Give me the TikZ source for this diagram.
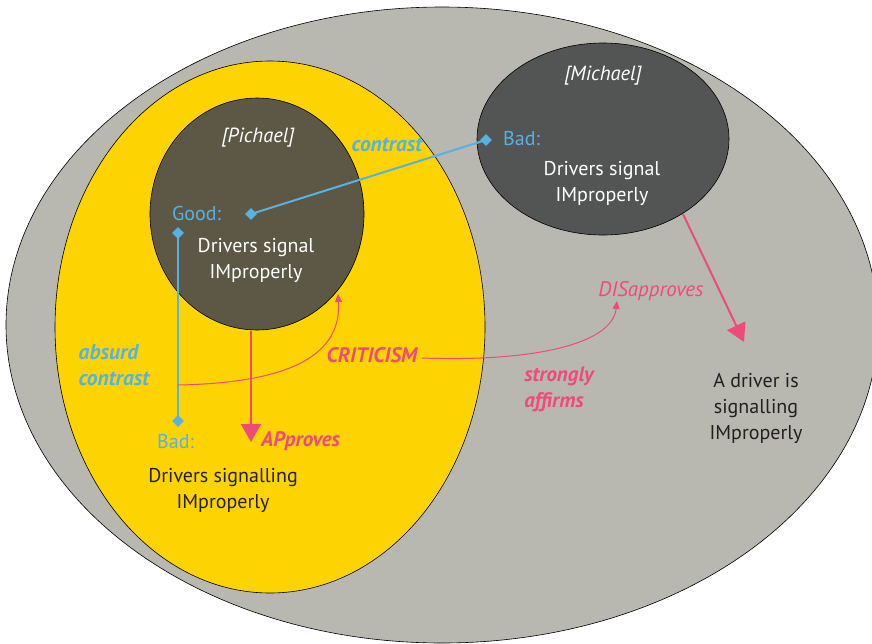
\documentclass[tikz,border=0pt]{standalone}
\usepackage{fontspec}
\setmainfont{PT Sans}
\usetikzlibrary{arrows.meta,shapes.geometric}
\definecolor{outergray}{HTML}{B9B8B0}
\definecolor{setyellow}{HTML}{FDD302}
\definecolor{pichaelc}{HTML}{5C5845}
\definecolor{michaelc}{HTML}{535454}
\definecolor{linkblue}{HTML}{55B2E3}
\definecolor{evalpink}{HTML}{EE4B7B}
\definecolor{inktext}{HTML}{231F20}
\tikzset{
  region/.style={draw=black, line width=0.6pt},
  lbl/.style={font=\fontsize{20}{26}\selectfont, align=center, inner sep=0pt},
  setname/.style={lbl, text=white, font=\fontsize{20.5}{26}\selectfont\itshape},
  pole/.style={lbl, text=linkblue},
  relblue/.style={lbl, text=linkblue, font=\fontsize{21.5}{26}\selectfont\bfseries\itshape, align=left},
  relpink/.style={lbl, text=evalpink, font=\fontsize{21}{26}\selectfont\bfseries\itshape},
  tip/.style={diamond, fill=linkblue, inner sep=0pt, minimum size=12pt},
  link/.style={linkblue, line width=2pt},
  bigarrow/.style={evalpink, line width=2pt, -{Triangle[width=20pt,length=18pt]}},
  thinarrow/.style={evalpink, line width=1pt, -{Triangle[width=7pt,length=8pt]}},
}
\begin{document}
\begin{tikzpicture}[x=1pt,y=-1pt]
\useasboundingbox (0,0) rectangle (872,643);
\clip (0,0) rectangle (872,643);
\fill[white] (0,0) rectangle (872,643);

% nested regions
\draw[region, fill=outergray] (442,325) ellipse [x radius=436, y radius=318];
\draw[region, fill=setyellow] (270,327) ellipse [x radius=215, y radius=266];
\draw[region, fill=pichaelc] (257,214) ellipse [x radius=107, y radius=116];
\draw[region, fill=michaelc] (603,139) ellipse [x radius=126, y radius=96];

% texts inside the regions
\node[setname] (pname) at (258,138) {[Pichael]};
\node[setname] (mname) at (603,76) {[Michael]};
\node[pole, anchor=west] (good) at (172,213) {Good:};
\node[lbl, text=white] (pdesc) at (256,260) {Drivers signal\\IMproperly};
\node[pole, anchor=west] (mbad) at (503,139) {Bad:};
\node[lbl, text=white] (mdesc) at (602,183) {Drivers signal\\IMproperly};
\node[pole, anchor=west] (ybad) at (157,442) {Bad:};
\node[lbl, text=inktext] (ydesc) at (223,490) {Drivers signalling\\IMproperly};
\node[lbl, text=inktext] (world) at (756,408) {A driver is\\signalling\\IMproperly};

% contrast links
\node[tip] (dgood) at (251,214) {};
\node[tip] (dmbad) at (486,140) {};
\node[tip] (dtop) at (178,233) {};
\node[tip] (dbot) at (178,421) {};
\draw[link] (dgood.center) -- (dmbad.center);
\draw[link] (dtop.center) -- (dbot.center);
\node[relblue] (contrastlbl) at (387,145) {contrast};
\node[relblue] (absurdlbl) at (114,365) {absurd\\contrast};
\coordinate (critstart) at (178,385);

% evaluations
\coordinate (apstart) at (251,331);
\coordinate (apend) at (251,442);
\draw[bigarrow] (apstart) -- (apend);
\node[relpink, anchor=west] (approves) at (261,441) {APproves};

\coordinate (disstart) at (683,214);
\coordinate (disend) at (744,342);
\draw[bigarrow] (disstart) -- (disend);

\node[relpink] (crit) at (372,355) {CRITICISM};
\node[lbl, text=evalpink, font=\fontsize{21}{26}\selectfont\itshape] (disapp) at (651,291) {DISapproves};
\node[relpink, align=left] (affirms) at (559,389) {strongly\\affirms};

\draw[thinarrow] (critstart) .. controls (280,383) and (342,360) .. (338,294);
\draw[thinarrow] (crit.east) ++(4,3) .. controls (530,362) and (612,345) .. (617,301);
\end{tikzpicture}
\end{document}
